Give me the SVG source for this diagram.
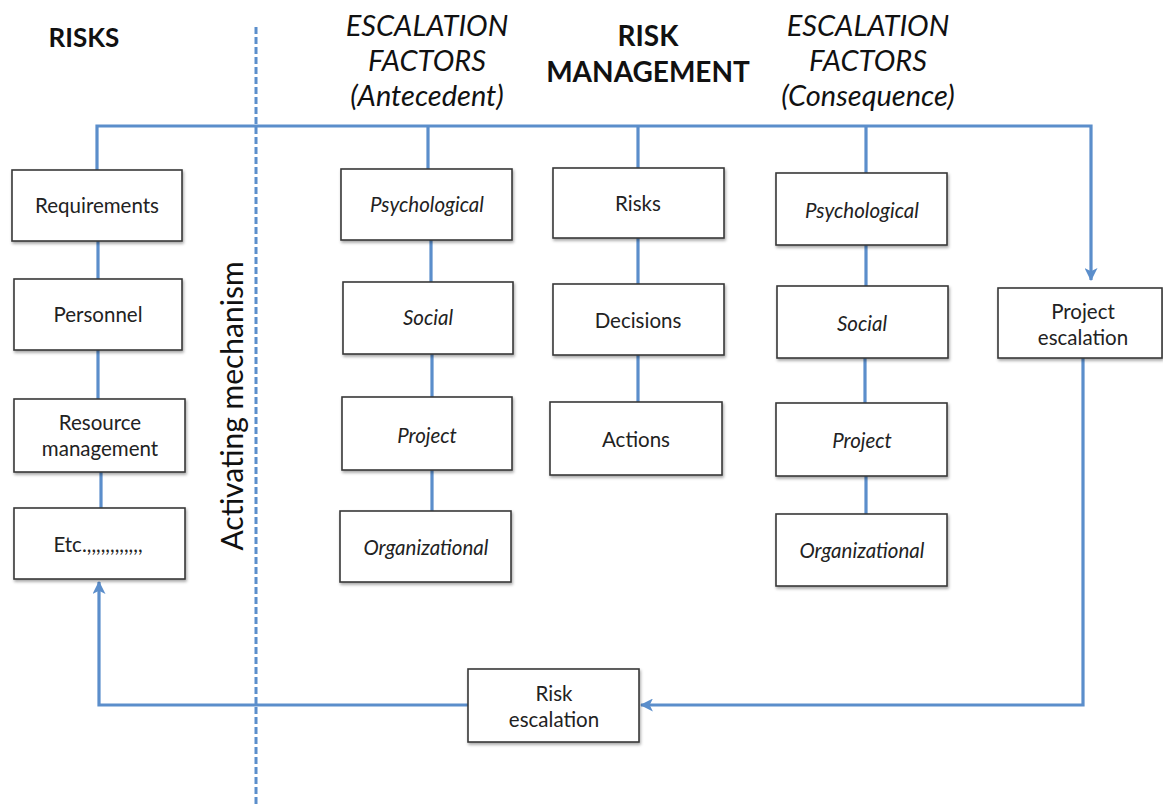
<svg xmlns="http://www.w3.org/2000/svg" width="1163" height="807" viewBox="0 0 1163 807">
<style>
.box{fill:#fff;stroke:#3a3a3a;stroke-width:1.6;filter:url(#sh)}
.lbl{font-family:Lato,"Open Sans",sans-serif;font-size:20.5px;fill:#222;text-anchor:middle}
.it{font-style:italic}
.hd{font-family:Lato,"Open Sans",sans-serif;fill:#111;text-anchor:middle}
.conn{fill:none;stroke:#5b8ecb;stroke-width:3.2}
</style>
<defs>
<filter id="sh" x="-10%" y="-10%" width="130%" height="140%">
<feDropShadow dx="1" dy="2" stdDeviation="1.5" flood-color="#000" flood-opacity="0.35"/>
</filter>
<marker id="arr" viewBox="0 0 12 12" refX="11" refY="6" markerWidth="13" markerHeight="13" markerUnits="userSpaceOnUse" orient="auto">
<path d="M0,0 L12,6 L0,12 L3,6 Z" fill="#5b8ecb"/>
</marker>
</defs>

<g id="headers">
<text class="hd" x="84" y="47" font-size="26" font-weight="bold">RISKS</text>
<text class="hd it" x="427" y="36" font-size="29">ESCALATION</text>
<text class="hd it" x="427" y="71" font-size="29">FACTORS</text>
<text class="hd it" x="427" y="106" font-size="29">(Antecedent)</text>
<text class="hd" x="648" y="46" font-size="28" font-weight="bold">RISK</text>
<text class="hd" x="648" y="82" font-size="28" font-weight="bold">MANAGEMENT</text>
<text class="hd it" x="868" y="36" font-size="29">ESCALATION</text>
<text class="hd it" x="868" y="71" font-size="29">FACTORS</text>
<text class="hd it" x="868" y="106" font-size="29">(Consequence)</text>
<text class="hd" transform="translate(243,406) rotate(-90)" font-size="30">Activating mechanism</text>
</g>

<g id="connectors">
<line x1="256" y1="27" x2="256" y2="807" stroke="#5b8ecb" stroke-width="3" stroke-dasharray="7,3"/>
<path class="conn" d="M97,170 V126 H1091 V280" marker-end="url(#arr)"/>
<line class="conn" x1="428" y1="126" x2="428" y2="169"/>
<line class="conn" x1="638" y1="126" x2="638" y2="168"/>
<line class="conn" x1="866" y1="126" x2="866" y2="173"/>
<line class="conn" x1="98" y1="241" x2="98" y2="279"/>
<line class="conn" x1="98" y1="350" x2="98" y2="399"/>
<line class="conn" x1="101" y1="472" x2="101" y2="508"/>
<line class="conn" x1="431" y1="240" x2="431" y2="282"/>
<line class="conn" x1="432" y1="354" x2="432" y2="397"/>
<line class="conn" x1="432" y1="470" x2="432" y2="511"/>
<line class="conn" x1="638" y1="238" x2="638" y2="284"/>
<line class="conn" x1="638" y1="355" x2="638" y2="402"/>
<line class="conn" x1="866" y1="245" x2="866" y2="286"/>
<line class="conn" x1="865" y1="358" x2="865" y2="403"/>
<line class="conn" x1="866" y1="476" x2="866" y2="514"/>
<path class="conn" d="M1083,358 V705 H641" marker-end="url(#arr)"/>
<path class="conn" d="M468,705 H99 V582" marker-end="url(#arr)"/>
</g>

<g id="n-requirements"><rect class="box" x="12" y="170" width="170" height="71"/><text class="lbl" x="97" y="213">Requirements</text></g>
<g id="n-personnel"><rect class="box" x="14" y="279" width="168" height="71"/><text class="lbl" x="98" y="322">Personnel</text></g>
<g id="n-resource"><rect class="box" x="14" y="399" width="171" height="73"/><text class="lbl" x="100" y="430">Resource</text><text class="lbl" x="100" y="456">management</text></g>
<g id="n-etc"><rect class="box" x="14" y="508" width="171" height="71"/><text class="lbl" x="98" y="552">Etc.,,,,,,,,,,,,</text></g>

<g id="n-a-psych"><rect class="box" x="341" y="169" width="171" height="71"/><text class="lbl it" x="427" y="212">Psychological</text></g>
<g id="n-a-social"><rect class="box" x="343" y="282" width="170" height="72"/><text class="lbl it" x="428" y="325">Social</text></g>
<g id="n-a-project"><rect class="box" x="342" y="397" width="170" height="73"/><text class="lbl it" x="427" y="443">Project</text></g>
<g id="n-a-org"><rect class="box" x="340" y="511" width="171" height="71"/><text class="lbl it" x="426" y="555">Organizational</text></g>

<g id="n-risks"><rect class="box" x="553" y="168" width="171" height="70"/><text class="lbl" x="638" y="211">Risks</text></g>
<g id="n-decisions"><rect class="box" x="553" y="284" width="171" height="71"/><text class="lbl" x="638" y="328">Decisions</text></g>
<g id="n-actions"><rect class="box" x="550" y="402" width="172" height="73"/><text class="lbl" x="636" y="447">Actions</text></g>

<g id="n-c-psych"><rect class="box" x="776" y="173" width="171" height="72"/><text class="lbl it" x="862" y="218">Psychological</text></g>
<g id="n-c-social"><rect class="box" x="777" y="286" width="171" height="72"/><text class="lbl it" x="862" y="331">Social</text></g>
<g id="n-c-project"><rect class="box" x="776" y="403" width="171" height="73"/><text class="lbl it" x="862" y="448">Project</text></g>
<g id="n-c-org"><rect class="box" x="776" y="514" width="171" height="72"/><text class="lbl it" x="862" y="558">Organizational</text></g>

<g id="n-project-escalation"><rect class="box" x="998" y="288" width="164" height="70"/><text class="lbl" x="1083" y="319">Project</text><text class="lbl" x="1083" y="345">escalation</text></g>
<g id="n-risk-escalation"><rect class="box" x="468" y="669" width="171" height="73"/><text class="lbl" x="554" y="701">Risk</text><text class="lbl" x="554" y="727">escalation</text></g>
</svg>
